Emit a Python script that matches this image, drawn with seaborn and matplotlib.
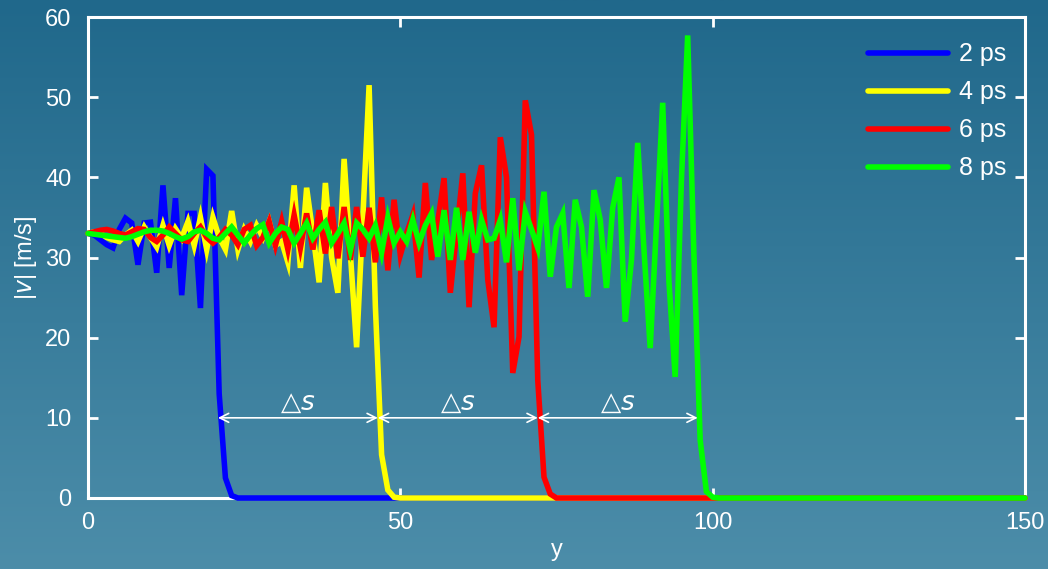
import numpy as np
import pandas as pd
import matplotlib
matplotlib.use("Agg")
import matplotlib.pyplot as plt
import seaborn as sns

# ---------------- data ----------------
labels = ["2 ps", "4 ps", "6 ps", "8 ps"]
colors = ["#0000ff", "#ffff00", "#ff0000", "#00ff00"]

v_2ps = [33.0, 32.8, 32.2, 31.6, 31.2, 33.5, 34.9, 34.3, 29.1, 34.3, 34.4, 28.1,
         39.0, 28.7, 37.4, 25.3, 35.5, 35.5, 23.7, 41.0, 40.2, 13.0, 2.5, 0.3, 0.0]
v_4ps = [33.0, 33.2, 33.0, 32.5, 32.2, 32.0, 32.8, 33.4, 32.0, 33.8, 32.5, 31.3,
         34.0, 31.5, 33.6, 32.4, 34.5, 31.5, 35.0, 31.0, 35.0, 32.5, 31.0, 35.8,
         31.0, 33.5, 32.0, 34.0, 32.5, 34.5, 31.5, 32.0, 29.4, 39.0, 28.7, 38.7,
         33.0, 26.9, 39.3, 30.0, 25.6, 42.3, 30.5, 18.8, 35.0, 51.5, 24.0, 5.4,
         1.0, 0.1, 0.0]
v_6ps = [33.0, 33.2, 33.4, 33.5, 33.3, 33.0, 32.8, 33.2, 33.6, 33.5, 32.5, 32.0,
         32.8, 33.8, 33.0, 32.2, 32.0, 33.0, 33.8, 32.5, 31.8, 32.5, 33.5, 32.8,
         31.6, 33.5, 34.0, 31.5, 32.5, 34.5, 31.5, 34.5, 31.0, 35.3, 31.2, 35.5,
         31.0, 35.9, 30.5, 36.3, 29.9, 36.3, 29.7, 36.3, 30.1, 36.2, 29.4, 37.5,
         28.4, 37.2, 30.3, 33.0, 35.3, 27.5, 39.3, 29.7, 34.5, 39.9, 25.6, 33.0,
         40.5, 23.8, 38.0, 41.5, 27.2, 21.3, 45.0, 40.0, 15.6, 20.1, 49.6, 45.3,
         14.7, 2.6, 0.5, 0.0]
v_8ps = [33.0, 32.9, 32.8, 32.7, 32.6, 32.5, 32.4, 32.6, 32.9, 33.2, 33.4, 33.4,
         33.3, 33.0, 32.6, 32.3, 32.6, 33.2, 33.4, 33.0, 32.4, 32.2, 33.0, 33.8,
         32.8, 31.8, 32.8, 33.6, 34.1, 31.8, 33.0, 33.8, 33.5, 31.8, 33.0, 34.3,
         32.4, 33.5, 34.4, 31.8, 33.0, 34.3, 30.9, 34.3, 33.5, 32.4, 34.0, 30.6,
         35.0, 31.8, 33.2, 32.0, 34.7, 31.8, 34.0, 35.5, 30.1, 35.9, 29.7, 36.2,
         29.7, 35.7, 30.6, 34.7, 32.2, 32.4, 34.7, 29.4, 37.4, 28.4, 35.7, 33.5,
         31.2, 38.2, 27.6, 33.8, 35.5, 26.2, 37.2, 33.8, 25.1, 38.4, 34.7, 26.2,
         36.2, 40.0, 22.0, 29.7, 44.3, 31.0, 18.7, 34.0, 49.3, 27.0, 15.1, 39.7,
         57.7, 30.3, 7.2, 0.8, 0.1, 0.0]
series = [v_2ps, v_4ps, v_6ps, v_8ps]
y_end = 150  # lines continue flat at zero up to the end of the domain

front_positions = [20.8, 46.4, 72.0, 97.6]
arrow_level = 10.0
arrow_text = "△"

# ---------------- long table ----------------
rows = []
for lab, vals in zip(labels, series):
    for i, v in enumerate(vals):
        rows.append((i, v, lab))
    rows.append((y_end, 0.0, lab))
df = pd.DataFrame(rows, columns=["y", "v", "t"])

# ---------------- figure ----------------
sns.set_style("ticks")
plt.rcParams["font.family"] = ["Liberation Sans", "DejaVu Sans"]
plt.rcParams["mathtext.fontset"] = "dejavusans"

fig = plt.figure(figsize=(10.48, 5.69), dpi=100)

# gradient background
bg = fig.add_axes([0, 0, 1, 1])
grad = np.linspace(0, 1, 256)[:, None]
top = np.array([0x20, 0x68, 0x8b]) / 255
bot = np.array([0x4c, 0x8d, 0xa9]) / 255
img = top[None, None, :] * (1 - grad[:, :, None]) + bot[None, None, :] * grad[:, :, None]
bg.imshow(img, aspect="auto", extent=[0, 1, 0, 1])
bg.set_axis_off()
bg.set_zorder(-1)

ax = fig.add_axes([88 / 1048, 71 / 569, 937 / 1048, 481 / 569])
ax.patch.set_alpha(0)

sns.lineplot(data=df, x="y", y="v", hue="t", palette=colors, linewidth=4,
             estimator=None, sort=False, ax=ax, legend=True)
for ln in ax.get_lines():
    ln.set_clip_on(False)
    ln.set_solid_joinstyle("miter")

ax.set_xlim(0, 150)
ax.set_ylim(0, 60)
ax.set_xticks([0, 50, 100, 150])
ax.set_yticks([0, 10, 20, 30, 40, 50, 60])

for s in ax.spines.values():
    s.set_color("white")
    s.set_linewidth(2.2)
    s.set_zorder(1)
ax.tick_params(axis="both", which="both", direction="in", colors="white",
               length=7, width=2, labelsize=17, top=True, right=True, pad=10)
ax.tick_params(axis="y", pad=12)

ax.set_xlabel("y", color="white", fontsize=17, labelpad=4)
ax.set_ylabel("|$v$| [m/s]", color="white", fontsize=17, labelpad=4)

# delta s arrows
for a, b in zip(front_positions[:-1], front_positions[1:]):
    ax.annotate("", xy=(b, arrow_level), xytext=(a, arrow_level),
                arrowprops=dict(arrowstyle="<->", color="white", lw=1.2,
                                shrinkA=0, shrinkB=0, mutation_scale=16))
    ax.text((a + b) / 2, arrow_level + 1.9, arrow_text + "$s$", color="white",
            fontsize=19, ha="center", va="center",
            family=["DejaVu Sans"])

leg = ax.legend(loc="upper right", bbox_to_anchor=(1.004, 0.994), frameon=False,
                fontsize=18, handlelength=3.2, labelspacing=0.56, handletextpad=0.45)
for t in leg.get_texts():
    t.set_color("white")
for h in leg.get_lines():
    h.set_linewidth(4)

fig.savefig("out.png", dpi=100)
